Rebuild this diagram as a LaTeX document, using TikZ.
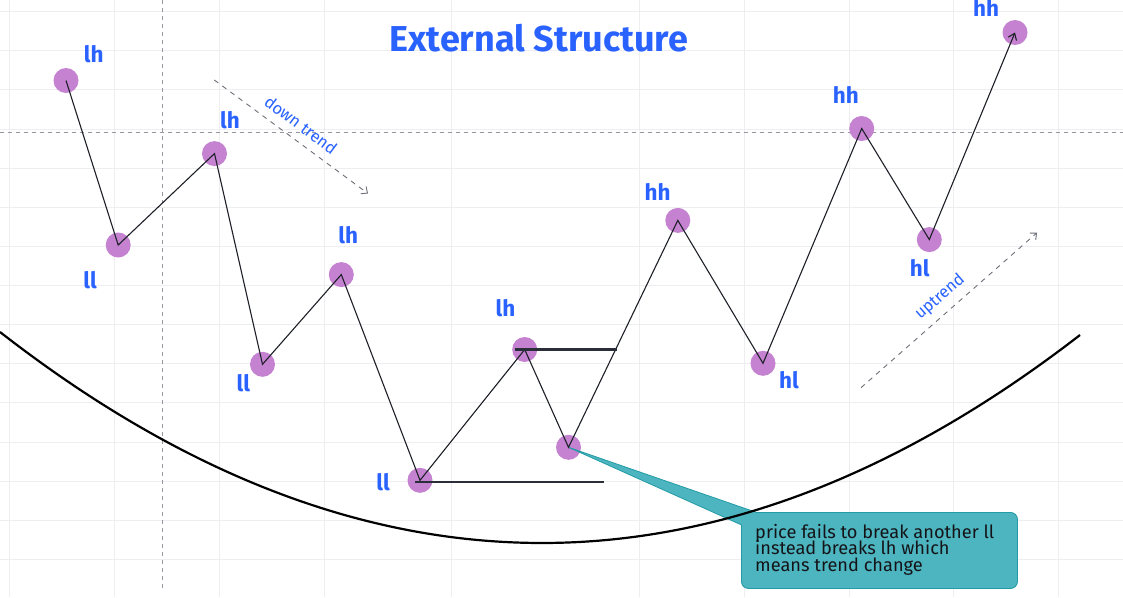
\documentclass[tikz,border=0pt]{standalone}
\usepackage{fontspec}
\setmainfont{Fira Sans}
\usetikzlibrary{arrows.meta}
\definecolor{gridc}{RGB}{238,238,241}
\definecolor{crossc}{RGB}{149,152,161}
\definecolor{dotc}{RGB}{196,130,208}
\definecolor{lblc}{RGB}{41,98,255}
\definecolor{zigc}{RGB}{30,32,40}
\definecolor{levc}{RGB}{42,46,57}
\definecolor{trendc}{RGB}{110,112,120}
\definecolor{boxc}{RGB}{77,181,192}
\definecolor{boxb}{RGB}{34,155,166}
\definecolor{txtc}{RGB}{20,20,24}
\begin{document}
\begin{tikzpicture}[x=1pt,y=-1pt,
  gridline/.style={draw=gridc, line width=0.9pt},
  crossline/.style={draw=crossc, line width=0.9pt, dash pattern=on 4pt off 4pt},
  dot/.style={circle, fill=dotc, minimum size=25pt, inner sep=0pt},
  lbl/.style={text=lblc, font=\fontsize{22.5}{22.5}\selectfont\bfseries, anchor=base, inner sep=0pt},
  zig/.style={draw=zigc, line width=1.1pt},
  levelline/.style={draw=levc, line width=2.3pt},
  trendarrow/.style={draw=trendc, line width=0.9pt, dash pattern=on 5pt off 5pt, -{Straight Barb[length=5pt,width=9pt]}},
  trendlbl/.style={text=lblc, font=\fontsize{16.5}{16.5}\selectfont, inner sep=0pt},
  ctext/.style={text=txtc, font=\fontsize{18.2}{18.2}\selectfont, anchor=base west, inner sep=0pt},
  arc/.style={draw=black, line width=2.2pt}
]
\useasboundingbox (0,0) rectangle (1123,597);
\fill[white] (0,0) rectangle (1123,597);
% grid
\foreach \gx in {9.3,114.3,219.3,324.3,451.7,639,744.5,849,953.5,1058}
  \draw[gridline] (\gx,0) -- (\gx,597);
\foreach \k in {0,...,14}
  \draw[gridline] (0,11.7+39.12*\k) -- (1123,11.7+39.12*\k);
% crosshair
\draw[crossline] (162.3,0) -- (162.3,589);
\draw[crossline] (0,132.3) -- (1123,132.3);
% trend arrows
\coordinate (ds) at (214.3,80);
\coordinate (de) at (368,193.5);
\draw[trendarrow] (ds) -- (de);
\node[trendlbl, rotate=-37] (dlbl) at (301,125) {down trend};
\coordinate (us) at (861,387.7);
\coordinate (ue) at (1037,232.7);
\draw[trendarrow] (us) -- (ue);
\node[trendlbl, rotate=41] (ulbl) at (940,297) {uptrend};
% callout
\node[draw=boxb, fill=boxc, line width=0.9pt, rounded corners=7pt, minimum width=276pt, minimum height=76pt, anchor=north west] (cbox) at (741,512) {};
% points
\node[dot] (p1) at (66,80.5) {};
\node[dot] (p2) at (118.2,245) {};
\node[dot] (p3) at (214.5,153.6) {};
\node[dot] (p4) at (262.5,364.3) {};
\node[dot] (p5) at (341.3,274.6) {};
\node[dot] (p6) at (420,480.3) {};
\node[dot] (p7) at (524.7,349.5) {};
\node[dot] (p8) at (568.5,447.3) {};
\node[dot] (p9) at (677.8,220.4) {};
\node[dot] (p10) at (763,363.3) {};
\node[dot] (p11) at (861.7,128.5) {};
\node[dot] (p12) at (929.3,239.6) {};
\node[dot] (p13) at (1015,32.5) {};
% callout tail
\coordinate (t1) at (757,512.6);
\coordinate (t2) at (741.6,525);
\fill[boxc] (p8.center) -- (t1) -- (t2) -- cycle;
\draw[boxb, line width=0.8pt] (t1) -- (p8.center) -- (t2);
% big arc
\draw[arc] (0,332) .. controls (360,612.3) and (720,613.3) .. (1080,335);
% zigzag
\draw[zig, -{Straight Barb[length=6pt,width=9pt]}] (p1.center) -- (p2.center) -- (p3.center) -- (p4.center) -- (p5.center) -- (p6.center) -- (p7.center) -- (p8.center) -- (p9.center) -- (p10.center) -- (p11.center) -- (p12.center) -- (p13.center);
% levels
\coordinate (lv1e) at (617.3,349.5);
\coordinate (lv2s) at (415,481.7);
\coordinate (lv2e) at (604.3,481.7);
\draw[levelline] ([xshift=-10pt]p7.center) -- (lv1e);
\draw[levelline] (lv2s) -- (lv2e);
% labels
\node[lbl] (l1) at (93.7,62.7) {lh};
\node[lbl] (l2) at (90,288.3) {ll};
\node[lbl] (l3) at (230,128.3) {lh};
\node[lbl] (l4) at (243.3,391.7) {ll};
\node[lbl] (l5) at (348.3,243.3) {lh};
\node[lbl] (l6) at (383,490) {ll};
\node[lbl] (l7) at (505.5,316.7) {lh};
\node[lbl] (l9) at (657.5,200) {hh};
\node[lbl] (l10) at (789,388.3) {hl};
\node[lbl] (l11) at (845.8,103.3) {hh};
\node[lbl] (l12) at (919.7,276) {hl};
\node[lbl] (l13) at (986,16.7) {hh};
\node[text=lblc, font=\fontsize{36}{36}\selectfont\bfseries, anchor=base, inner sep=0pt] (title) at (538.8,51.7) {External Structure};
% callout text
\node[ctext] (c1) at (755,538) {price fails to break another ll};
\node[ctext] (c2) at (755,554.7) {instead breaks lh which};
\node[ctext] (c3) at (755,571.4) {means trend change};
\end{tikzpicture}
\end{document}
